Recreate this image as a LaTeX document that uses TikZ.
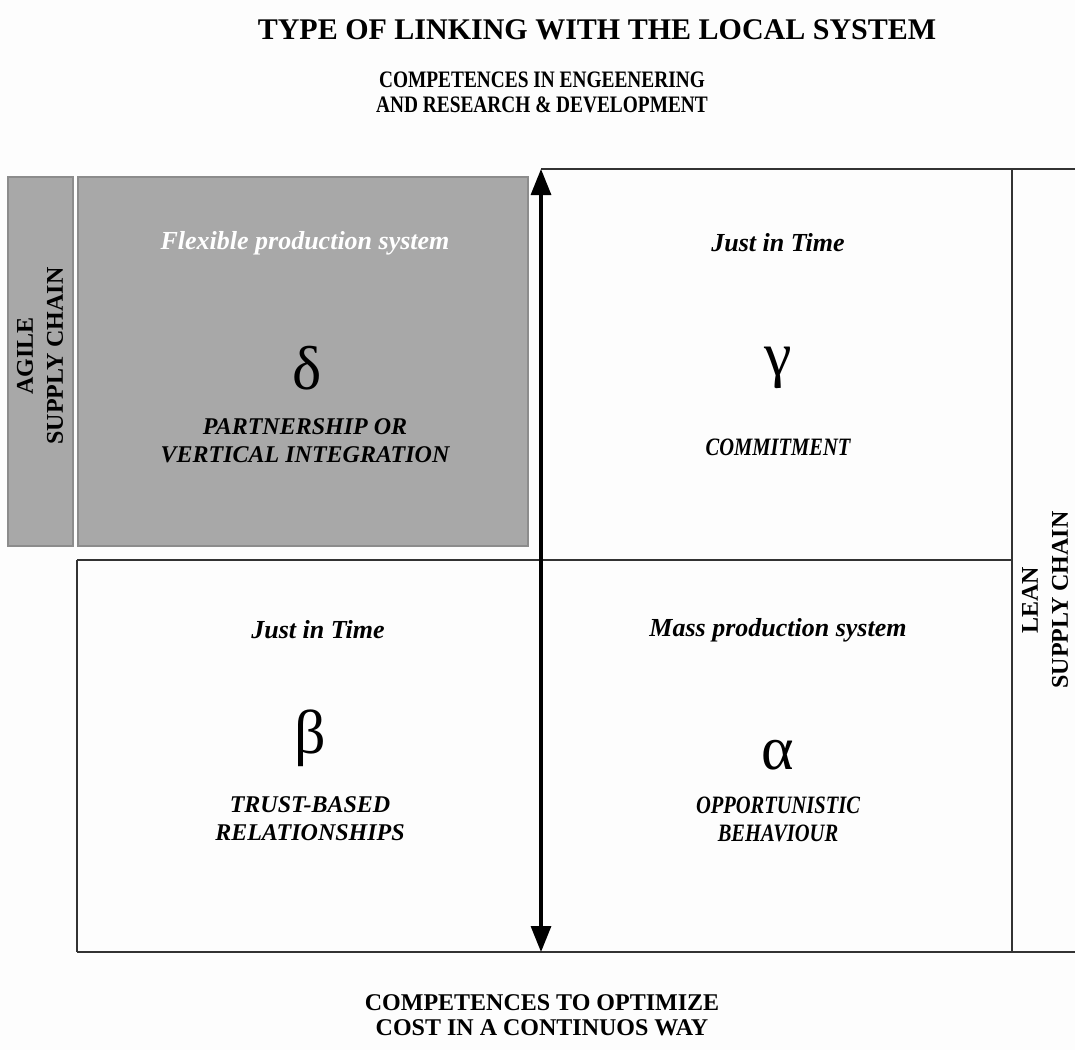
\documentclass[tikz,border=0pt]{standalone}
\usepackage{fontspec}
\setmainfont{Liberation Serif}
\newfontfamily\narrowserif[FakeStretch=0.82]{Liberation Serif}
\usetikzlibrary{positioning, arrows.meta}
\definecolor{agilegray}{HTML}{A8A8A8}
\definecolor{edgegray}{HTML}{8C8C8C}
\definecolor{linegray}{HTML}{333333}
\definecolor{paper}{HTML}{FDFDFD}

\begin{document}
\begin{tikzpicture}[x=0.5pt, y=-0.5pt,
  head/.style={font=\fontsize{15}{18}\selectfont\bfseries},
  axis/.style={font=\fontsize{12}{12.5}\selectfont\bfseries, align=center},
  sys/.style={font=\fontsize{13}{15}\selectfont\bfseries\itshape},
  rel/.style={font=\fontsize{12}{14}\selectfont\bfseries\itshape, align=center},
  letter/.style={font=\fontsize{31}{31}\selectfont},
  chain/.style={font=\fontsize{12}{15}\selectfont\bfseries, align=center, rotate=90},
  frame/.style={draw=linegray, line width=1.4pt},
  greybox/.style={fill=agilegray, draw=edgegray, line width=0.6pt}]
\fill[paper] (0,0) rectangle (1075,1050);
\useasboundingbox (0,0) rectangle (1075,1050);
% grey quadrant
\draw[greybox] (8,177) rectangle (73,546);
\draw[greybox] (78,177) rectangle (528,546);
% frame
\coordinate (tl) at (541,169);
\coordinate (tr) at (1075,169);
\coordinate (bl) at (77,952);
\coordinate (br) at (1075,952);
\coordinate (ml) at (77,560);
\coordinate (mr) at (1012,560);
\coordinate (rt) at (1012,169);
\coordinate (rb) at (1012,952);
\coordinate (bot) at (541,952);
\draw[frame] (tl) -- (tr);
\draw[frame] (bl) -- (br);
\draw[frame] (ml) -- (mr);
\draw[frame] (ml) -- (bl);
\draw[frame] (rt) -- (rb);
\draw (bot) edge[{Triangle[length=13pt,width=10pt]}-{Triangle[length=13pt,width=10pt]}, draw=black, line width=1.6pt] (tl);
% texts
\node[head] at (597,30) (title) {TYPE OF LINKING WITH THE LOCAL SYSTEM};
\node[axis, font=\fontsize{11.8}{12.5}\selectfont\bfseries\narrowserif] at (542,92) (rd) {COMPETENCES IN ENGEENERING\\AND RESEARCH \& DEVELOPMENT};
\node[axis] at (542,1015) (cost) {COMPETENCES TO OPTIMIZE\\COST IN A CONTINUOS WAY};
\node[chain] at (40,356) (agile) {AGILE\\SUPPLY CHAIN};
\node[chain] at (1045,600) (lean) {LEAN\\SUPPLY CHAIN};
% upper left
\node[sys, text=white] at (305,243) (flex) {Flexible production system};
\node[letter] at (307,368) (delta) {δ};
\node[rel] at (305,441) (partner) {PARTNERSHIP OR\\VERTICAL INTEGRATION};
% upper right
\node[sys] at (778,243) (jit1) {Just in Time};
\node[letter] at (778,368) (gamma) {γ};
\node[rel, font=\fontsize{12.5}{14}\selectfont\bfseries\itshape\narrowserif] at (778,447) (commit) {COMMITMENT};
% lower left
\node[sys] at (318,630) (jit2) {Just in Time};
\node[letter] at (310,738) (beta) {β};
\node[rel] at (310,819) (trust) {TRUST-BASED\\RELATIONSHIPS};
% lower right
\node[sys] at (778,630) (mass) {Mass production system};
\node[letter] at (778,755) (alpha) {α};
\node[rel, font=\fontsize{12.5}{14}\selectfont\bfseries\itshape\narrowserif] at (778,819) (opp) {OPPORTUNISTIC\\BEHAVIOUR};
\end{tikzpicture}
\end{document}
